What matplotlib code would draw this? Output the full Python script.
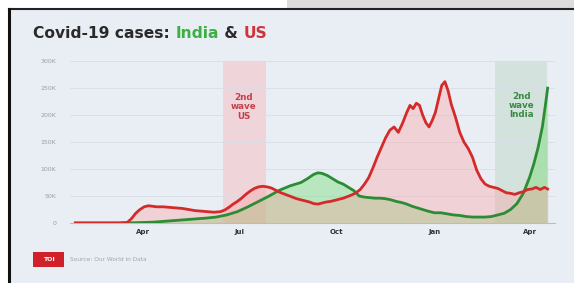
import numpy as np
import pandas as pd
import matplotlib
matplotlib.use("Agg")
import matplotlib.pyplot as plt
import matplotlib.dates as mdates
from matplotlib.patches import Rectangle

# days since 2020-01-01, values in thousands of daily cases (7-day avg)
us_day = [27, 69, 76, 80, 84, 88, 92, 96, 100, 104, 110, 116, 122, 128, 134, 140, 146, 152, 158,
          164, 168, 172, 176, 180, 184, 188, 192, 196, 200, 204, 208, 212, 216, 220, 224, 228, 232,
          236, 240, 244, 248, 252, 256, 260, 264, 268, 272, 276, 280, 284, 288, 292, 296, 300, 304,
          308, 312, 316, 320, 324, 328, 332, 336, 340, 343, 346, 349, 352, 355, 358, 361, 364, 367,
          370, 373, 376, 379, 382, 386, 390, 394, 398, 402, 406, 410, 414, 418, 422, 426, 430, 434,
          438, 442, 446, 450, 454, 458, 462, 466, 470, 473]
us_cases = [0, 0, 1, 8, 18, 25, 30, 32, 31, 30, 30, 29, 28, 27, 25, 23, 22, 21, 20,
            21, 24, 29, 35, 40, 46, 53, 59, 64, 67, 68, 67, 65, 61, 57, 54, 51, 48,
            45, 43, 41, 39, 36, 35, 37, 39, 40, 42, 44, 46, 49, 52, 56, 62, 72, 84,
            102, 122, 140, 158, 172, 178, 168, 185, 205, 218, 212, 222, 218, 200, 186, 178, 190, 205,
            230, 255, 262, 245, 220, 196, 168, 150, 138, 122, 98, 82, 72, 68, 66, 64, 60, 56,
            55, 53, 56, 58, 62, 63, 66, 62, 66, 63]

india_day = [27, 60, 80, 91, 100, 110, 120, 130, 140, 150, 160, 170, 180, 190, 200, 210, 220, 230,
             240, 246, 252, 256, 260, 265, 270, 275, 280, 285, 290, 295, 300, 305, 310, 315, 320,
             325, 330, 335, 340, 345, 350, 355, 360, 366, 372, 378, 384, 390, 396, 402, 408, 414,
             420, 426, 432, 438, 444, 450, 456, 460, 464, 468, 471, 473]
india_cases = [0, 0, 0.3, 1, 1.5, 3, 4.5, 6, 7.5, 9, 11, 15, 21, 30, 40, 50, 61, 69,
               75, 82, 90, 93, 92, 88, 82, 76, 72, 66, 60, 50, 48, 47, 46, 46, 45,
               43, 40, 38, 35, 31, 28, 25, 22, 19, 19, 17, 15, 14, 12, 11, 11, 11,
               12, 15, 18, 25, 36, 55, 85, 110, 140, 178, 220, 250]

us_wave = ("2020-06-15", "2020-07-26")
india_wave = ("2021-02-27", "2021-04-17")
y_ticks = [0, 50, 100, 150, 200, 250, 300]
y_labels = ["0", "50K", "100K", "150K", "200K", "250K", "300K"]

start = pd.Timestamp("2020-01-01")
us_x = start + pd.to_timedelta(us_day, unit="D")
india_x = start + pd.to_timedelta(india_day, unit="D")

bg = "#e9eef5"
red = "#d42a2a"
green = "#2c8c34"

fig = plt.figure(figsize=(5.74, 2.83), dpi=100, facecolor=bg)

# frame bits around the panel
fig.patches.append(Rectangle((0, 0.972), 1, 0.028, transform=fig.transFigure,
                             facecolor="white", edgecolor="none", zorder=0))
fig.patches.append(Rectangle((0.5, 0.972), 0.5, 0.028, transform=fig.transFigure,
                             facecolor="#dcdcdc", edgecolor="none", zorder=0))
fig.patches.append(Rectangle((0, 0), 0.014, 1, transform=fig.transFigure,
                             facecolor="white", edgecolor="none", zorder=0))
fig.add_artist(plt.Line2D([0.015, 1], [0.967, 0.967], transform=fig.transFigure,
                          color="#222222", lw=1.5))
fig.add_artist(plt.Line2D([0.015, 0.015], [0, 0.967], transform=fig.transFigure,
                          color="#111111", lw=2.2))

ax = fig.add_axes([0.122, 0.212, 0.845, 0.572])
ax.set_facecolor(bg)

ax.axvspan(pd.Timestamp(us_wave[0]), pd.Timestamp(us_wave[1]), color="#efd4d9", lw=0, zorder=0)
ax.axvspan(pd.Timestamp(india_wave[0]), pd.Timestamp(india_wave[1]), color="#d3e2dc", lw=0, zorder=0)

ax.fill_between(india_x, 0, india_cases, color="#6fdc6f", alpha=0.4, lw=0, zorder=1)
ax.fill_between(us_x, 0, us_cases, color="#ff9c9c", alpha=0.35, lw=0, zorder=1)
ax.plot(india_x, india_cases, color=green, lw=2.0, zorder=3, solid_joinstyle="round")
ax.plot(us_x, us_cases, color=red, lw=2.0, zorder=4, solid_joinstyle="round")

ax.text(pd.Timestamp("2020-07-05"), 215, "2nd\nwave\nUS", color="#c2404c", fontsize=6.3,
        fontweight="bold", ha="center", va="center", linespacing=1.05)
ax.text(pd.Timestamp("2021-03-24"), 218, "2nd\nwave\nIndia", color="#3a8a44", fontsize=6.3,
        fontweight="bold", ha="center", va="center", linespacing=1.05)

ax.set_xlim(start + pd.Timedelta(days=22), start + pd.Timedelta(days=480))
ax.set_ylim(0, 300)
ax.set_yticks(y_ticks)
ax.set_yticklabels(y_labels)
ax.grid(axis="y", color="#d8dde6", lw=0.6)
ax.set_axisbelow(True)
ax.xaxis.set_major_locator(mdates.MonthLocator(bymonth=[1, 4, 7, 10]))
ax.xaxis.set_major_formatter(mdates.DateFormatter("%b"))
ax.tick_params(axis="y", length=0, labelsize=4.5, labelcolor="#9a9ea6", pad=10)
ax.tick_params(axis="x", length=0, labelsize=5, labelcolor="#333333", pad=4)
for lab in ax.get_xticklabels():
    lab.set_fontweight("bold")
for s in ["top", "right", "left"]:
    ax.spines[s].set_visible(False)
ax.spines["bottom"].set_color("#b8bcc4")
ax.spines["bottom"].set_linewidth(0.8)

# title in coloured pieces
renderer = fig.canvas.get_renderer()
x = 0.058
for piece, col in [("Covid-19 cases: ", "#2a2a2a"), ("India", "#3cb043"),
                   (" & ", "#2a2a2a"), ("US", "#d0343a")]:
    t = fig.text(x, 0.883, piece, color=col, fontsize=11.2, fontweight="bold", va="center")
    bb = t.get_window_extent(renderer=renderer)
    x += bb.width / fig.bbox.width

# footer
fig.patches.append(Rectangle((0.058, 0.057), 0.054, 0.053, transform=fig.transFigure,
                             facecolor="#d0202a", edgecolor="none"))
fig.text(0.085, 0.083, "TOI", color="white", fontsize=4.5, fontweight="bold",
         ha="center", va="center")
fig.text(0.122, 0.083, "Source: Our World in Data", color="#a0a4ac", fontsize=4.2, va="center")

fig.savefig("out.png", dpi=100, facecolor=bg)
